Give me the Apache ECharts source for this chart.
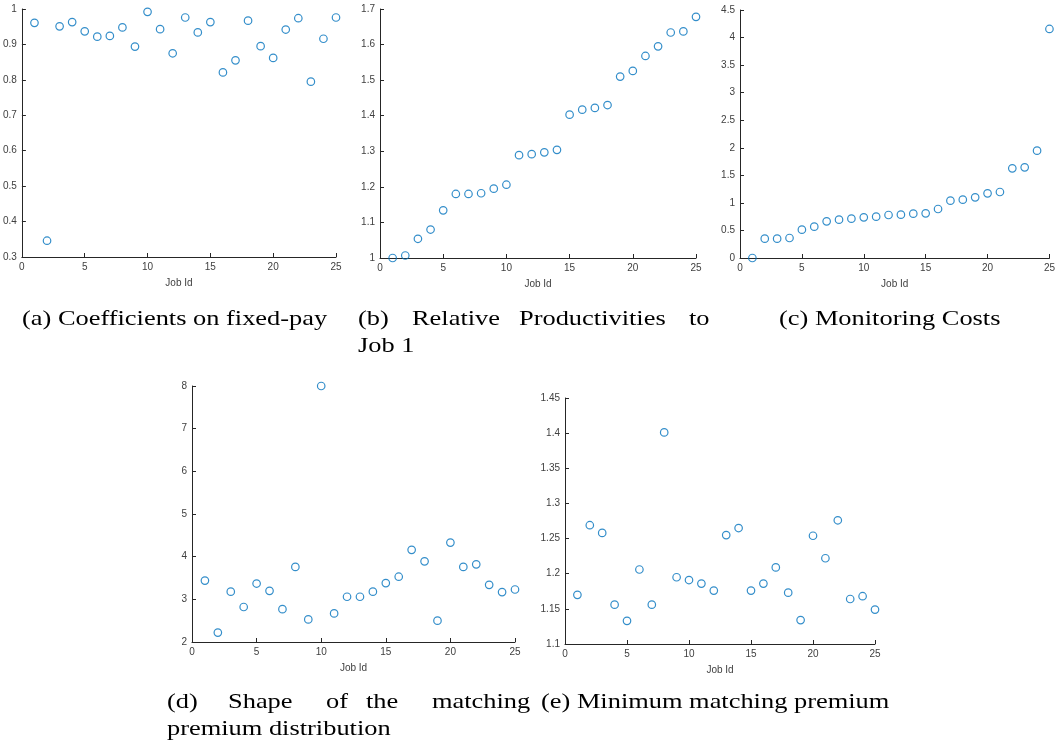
<!DOCTYPE html>
<html>
<head>
<meta charset="utf-8">
<script src="https://cdn.jsdelivr.net/npm/echarts@6/dist/echarts.min.js"></script>
<style>
html,body{margin:0;padding:0;background:#fff;}
#chart{width:1058px;height:744px;}
</style>
</head>
<body>
<div id="chart"></div>
<script>
// ---- data ----
const jobIds = [1,2,3,4,5,6,7,8,9,10,11,12,13,14,15,16,17,18,19,20,21,22,23,24,25];
const fixedPayCoef = [0.961,0.346,0.951,0.963,0.937,0.922,0.924,0.948,0.894,0.992,0.943,0.875,0.976,0.934,0.963,0.821,0.855,0.967,0.895,0.862,0.942,0.974,0.795,0.916,0.976];
const relProductivity = [1.000,1.007,1.054,1.080,1.134,1.180,1.180,1.182,1.195,1.206,1.289,1.292,1.297,1.304,1.403,1.417,1.422,1.430,1.510,1.526,1.568,1.595,1.634,1.637,1.678];
const monitoringCost = [0,0.351,0.351,0.363,0.514,0.569,0.665,0.696,0.714,0.738,0.750,0.780,0.786,0.805,0.811,0.889,1.040,1.059,1.101,1.174,1.198,1.627,1.645,1.948,4.156];
const premiumShape = [3.44,2.22,3.18,2.82,3.37,3.20,2.77,3.76,2.53,8.00,2.67,3.06,3.06,3.18,3.38,3.53,4.16,3.89,2.50,4.33,3.76,3.82,3.34,3.17,3.23];
const minPremium = [1.170,1.269,1.258,1.156,1.133,1.206,1.156,1.401,1.195,1.191,1.186,1.176,1.255,1.265,1.176,1.186,1.209,1.173,1.134,1.254,1.222,1.276,1.164,1.168,1.149];
const xAxisName = 'Job Id';
const xRange = [0, 25, 5];
const yRanges = [[0.3,1,0.1],[1,1.7,0.1],[0,4.5,0.5],[2,8,1],[1.1,1.45,0.05]];
const captions = {
  a: '(a) Coefficients on fixed-pay',
  b1: ['(b)','Relative','Productivities','to'],
  b2: 'Job 1',
  c: '(c) Monitoring Costs',
  d1: ['(d)','Shape','of','the','matching'],
  d2: 'premium distribution',
  e: '(e) Minimum matching premium'
};
const panelSeries = [fixedPayCoef, relProductivity, monitoringCost, premiumShape, minPremium];

// ---- layout ----
const grids = [
  {left:21, right:722, top:9, bottom:487},
  {left:380, right:362, top:9, bottom:486},
  {left:740, right:3, top:10, bottom:486},
  {left:192, right:543, top:386, bottom:102},
  {left:565, right:183, top:398, bottom:100}
];
const axisColor = '#262626';
const labelColor = '#404040';
const sans = 'Liberation Sans, Arial, sans-serif';
const serif = 'Liberation Serif, Times New Roman, serif';

const xAxes = grids.map((g,i)=>({
  type:'value', gridIndex:i, min:xRange[0], max:xRange[1], interval:xRange[2],
  name:xAxisName, nameLocation:'middle', nameGap:21,
  nameTextStyle:{color:labelColor, fontFamily:sans, fontSize:10},
  axisLine:{lineStyle:{color:axisColor, width:1}},
  axisTick:{inside:true, length:4, lineStyle:{color:axisColor}},
  axisLabel:{color:labelColor, fontFamily:sans, fontSize:10, margin:5},
  splitLine:{show:false}
}));
const yAxes = grids.map((g,i)=>({
  type:'value', gridIndex:i, min:yRanges[i][0], max:yRanges[i][1], interval:yRanges[i][2],
  axisLine:{show:true, lineStyle:{color:axisColor, width:1}},
  axisTick:{show:true, inside:true, length:4, lineStyle:{color:axisColor}},
  axisLabel:{color:labelColor, fontFamily:sans, fontSize:10, margin:5,
    formatter:v=>String(Math.round(v*1000)/1000)},
  splitLine:{show:false}
}));
const series = panelSeries.map((arr,i)=>({
  type:'scatter', xAxisIndex:i, yAxisIndex:i, clip:false,
  symbol:'circle', symbolSize:7.5,
  itemStyle:{color:'rgba(0,0,0,0)', borderColor:'#0072BD', borderWidth:1.2},
  data: jobIds.map((x,k)=>[x, arr[k]])
}));

function txt(t, x, y){
  return {type:'text', x:x, y:y, scaleX:1.2, style:{text:t, fill:'#000', font:'22px ' + serif, textVerticalAlign:'middle'}};
}
const graphics = [
  txt(captions.a, 22, 319),
  txt(captions.b1[0], 358, 319), txt(captions.b1[1], 412, 319), txt(captions.b1[2], 519, 319), txt(captions.b1[3], 689, 319),
  txt(captions.b2, 358, 346),
  txt(captions.c, 779, 319),
  txt(captions.d1[0], 167, 702), txt(captions.d1[1], 228, 702), txt(captions.d1[2], 326, 702), txt(captions.d1[3], 366, 702), txt(captions.d1[4], 432, 702),
  txt(captions.d2, 167, 729),
  txt(captions.e, 541, 702)
];

const chart = echarts.init(document.getElementById('chart'), null, {renderer:'canvas'});
chart.setOption({
  animation:false,
  backgroundColor:'#fff',
  grid: grids,
  xAxis: xAxes,
  yAxis: yAxes,
  series: series,
  graphic: graphics
});
</script>
</body>
</html>
